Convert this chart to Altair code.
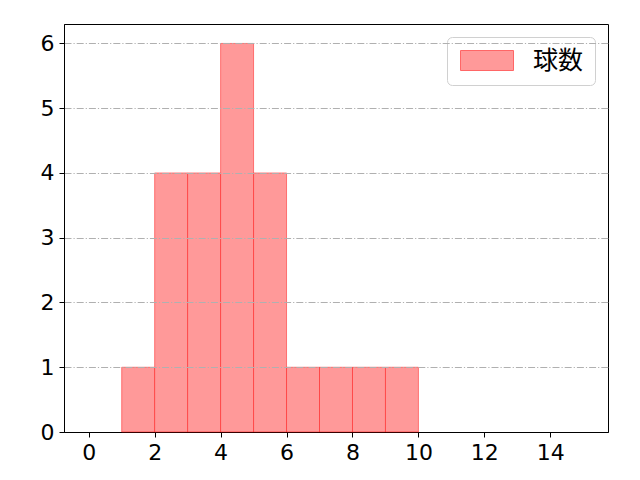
import pandas as pd
import altair as alt

# histogram bins (width 1) and their counts
bin_start = [1, 2, 3, 4, 5, 6, 7, 8, 9]
bin_end = [2, 3, 4, 5, 6, 7, 8, 9, 10]
counts = [1, 4, 4, 6, 4, 1, 1, 1, 1]
series = "球数"

x_ticks = [0, 2, 4, 6, 8, 10, 12, 14]
y_ticks = [0, 1, 2, 3, 4, 5, 6]

df = pd.DataFrame({"start": bin_start, "end": bin_end, "count": counts})
df["label"] = series

FONT = "Noto Sans CJK JP"

bars = alt.Chart(df).mark_rect(
    stroke="red", strokeOpacity=0.45, strokeWidth=1
).encode(
    x=alt.X("start:Q",
            scale=alt.Scale(domain=[-0.75, 15.75], nice=False, zero=False),
            axis=alt.Axis(values=x_ticks, title=None, grid=False,
                          labelPadding=5)),
    x2="end:Q",
    y=alt.Y("count:Q",
            scale=alt.Scale(domain=[0, 6.3], nice=False),
            axis=alt.Axis(values=y_ticks, title=None, grid=True, zindex=1,
                          gridColor="#b0b0b0", gridWidth=1,
                          gridDash=[7, 2, 1.2, 2],
                          gridOpacity={"condition": {"test": "datum.value === 0", "value": 0},
                                       "value": 1},
                          labelPadding=5)),
    y2=alt.datum(0),
    color=alt.Color("label:N",
                    scale=alt.Scale(range=["#ff9999"]),
                    legend=alt.Legend(title=None, orient="none",
                                      legendX=383, legendY=13,
                                      symbolType="M-1,-1H4.3V1H-1Z",
                                      symbolSize=400,
                                      symbolStrokeColor="#ff6666",
                                      symbolStrokeWidth=1,
                                      symbolOpacity=1,
                                      labelOffset=50,
                                      labelFontSize=25,
                                      labelFont=FONT,
                                      labelColor="black",
                                      padding=11,
                                      strokeColor="#d0d0d0",
                                      fillColor="white",
                                      cornerRadius=5))
)

chart = bars.properties(
    width=544, height=408,
    autosize="none",
    padding={"left": 56, "top": 16, "right": 24, "bottom": 40}
).configure_view(
    stroke="black", strokeWidth=1
).configure_axis(
    domainColor="black", tickColor="black", tickSize=5,
    labelFontSize=22, labelFont="DejaVu Sans", labelColor="black"
)

chart.save("out.html", embed_options={"renderer": "svg", "actions": False})
